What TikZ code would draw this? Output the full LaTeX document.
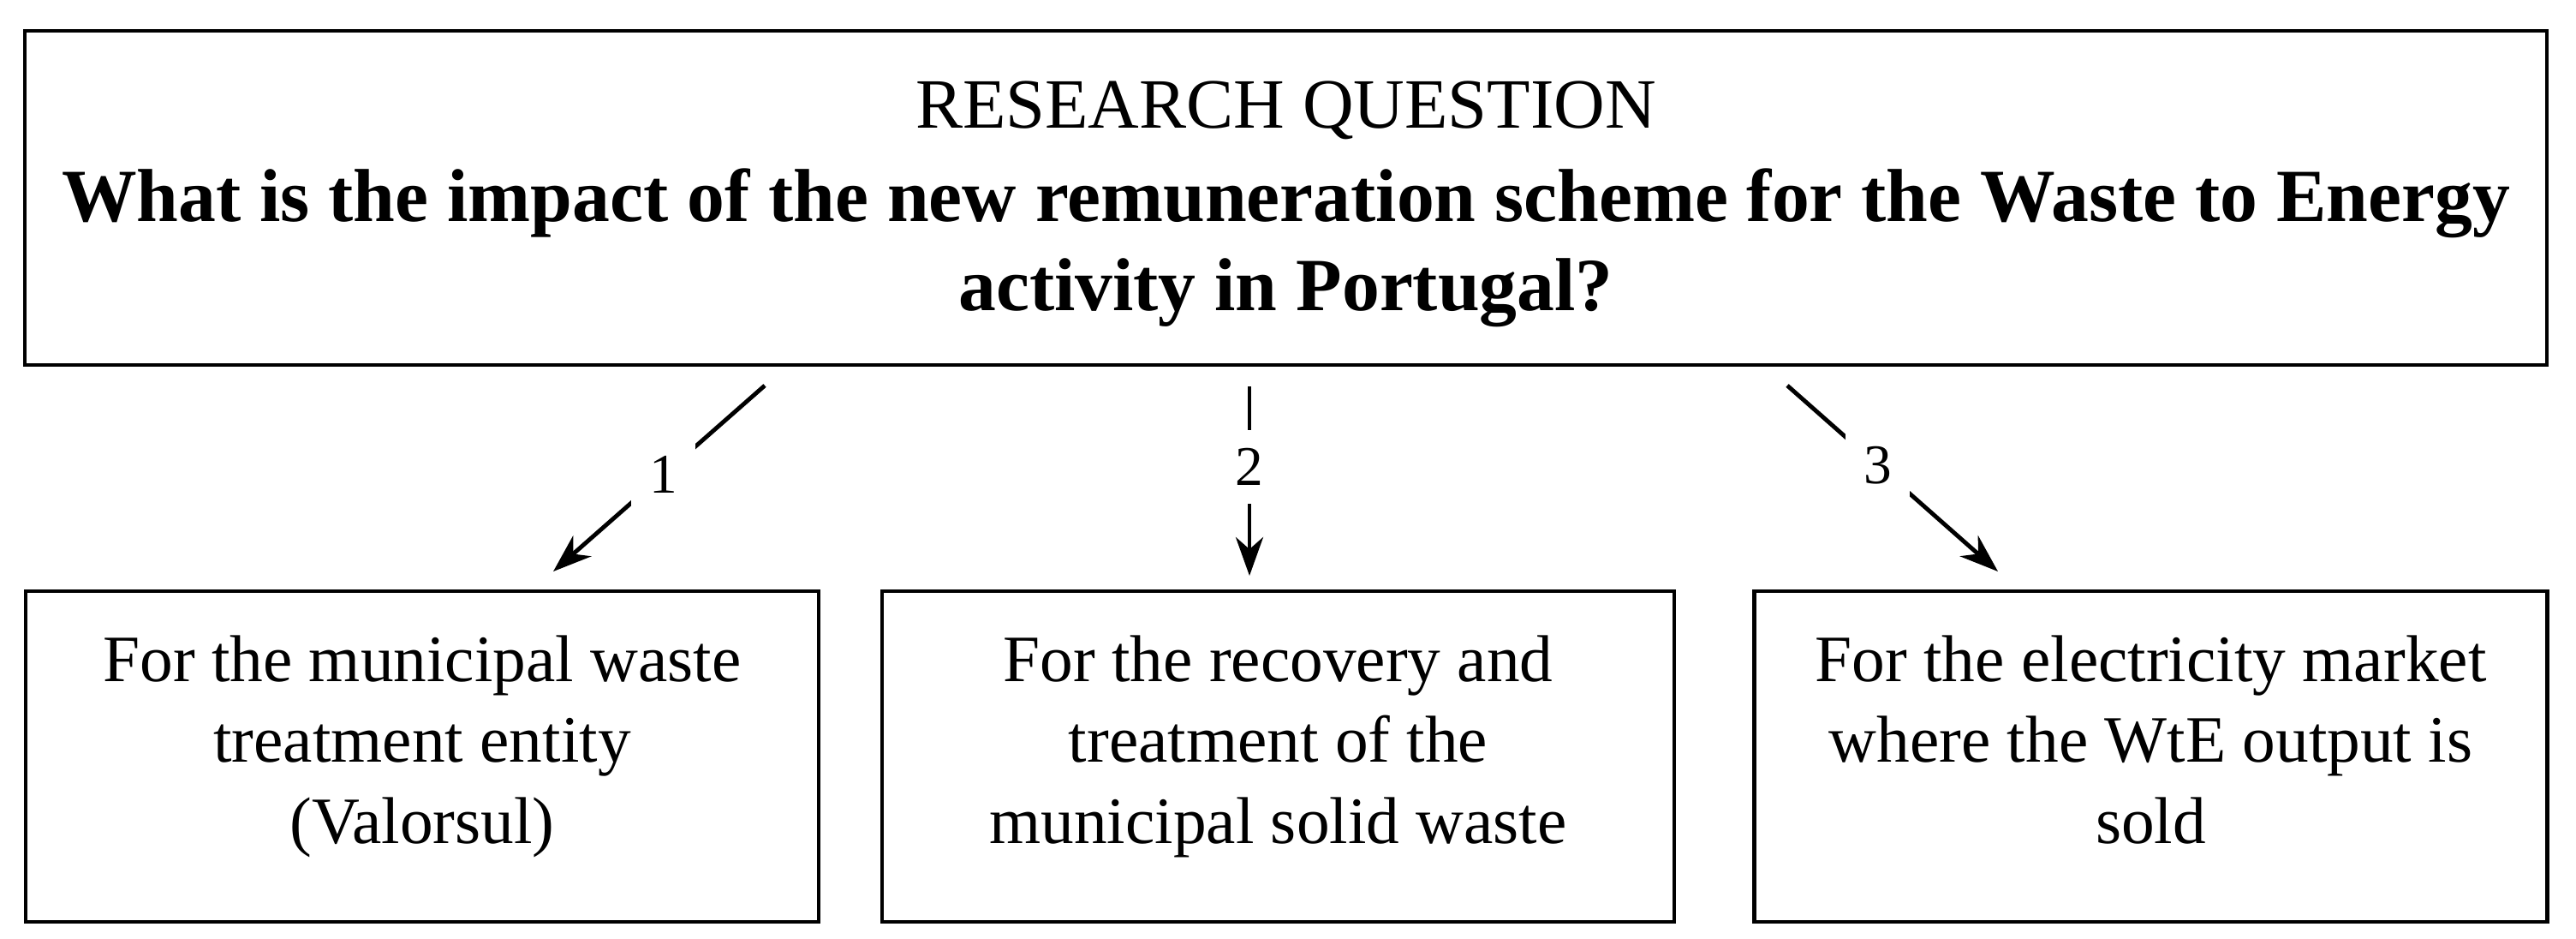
\documentclass[tikz,border=0pt]{standalone}
\usepackage{fontspec}
\setmainfont{Liberation Serif}
\usetikzlibrary{arrows.meta}

\begin{document}
\begin{tikzpicture}[
		box/.style={draw, line width=0.6pt, align=center, minimum height=1.93cm},
		answer/.style={box, minimum width=4.63cm, text depth=5.7pt, font=\fontsize{11}{13.4}\selectfont},
		lbl/.style={fill=white, inner sep=3pt, font=\fontsize{9.3}{11}\selectfont},
		link/.style={line width=0.7pt, -{Stealth[length=2.25mm, width=1.6mm, inset=0.7mm]}}
	]
	\useasboundingbox (0, 0) rectangle (15.04, -5.475);

	\node[box, minimum width=14.725cm, minimum height=1.95cm, text depth=0.8pt,
		font=\fontsize{12.47}{14.8}\selectfont] (question) at (7.5075, -1.155)
		{\fontsize{11.75}{14.8}\selectfont RESEARCH QUESTION\\[0.7pt]
		\bfseries What is the impact of the new remuneration scheme for the Waste to Energy\\
		\bfseries activity in Portugal?};

	\node[answer] (entity) at (2.465, -4.415)
		{For the municipal waste\\treatment entity\\(Valorsul)};
	\node[answer, minimum width=4.625cm] (recovery) at (7.4625, -4.415)
		{For the recovery and\\treatment of the\\municipal solid waste};
	\node[answer] (market) at (12.5575, -4.415)
		{For the electricity market\\where the WtE output is\\sold};

	\coordinate (from1) at (4.465, -2.25);
	\coordinate (to1) at (3.23, -3.335);
	\coordinate (from2) at (7.295, -2.255);
	\coordinate (to2) at (7.295, -3.36);
	\coordinate (from3) at (10.435, -2.25);
	\coordinate (to3) at (11.665, -3.335);

	\draw[link] (from1) -- node[lbl, pos=0.48] {1} (to1);
	\draw[link] (from2) -- node[lbl, pos=0.425] {2} (to2);
	\draw[link] (from3) -- node[lbl, pos=0.43] {3} (to3);
\end{tikzpicture}
\end{document}
